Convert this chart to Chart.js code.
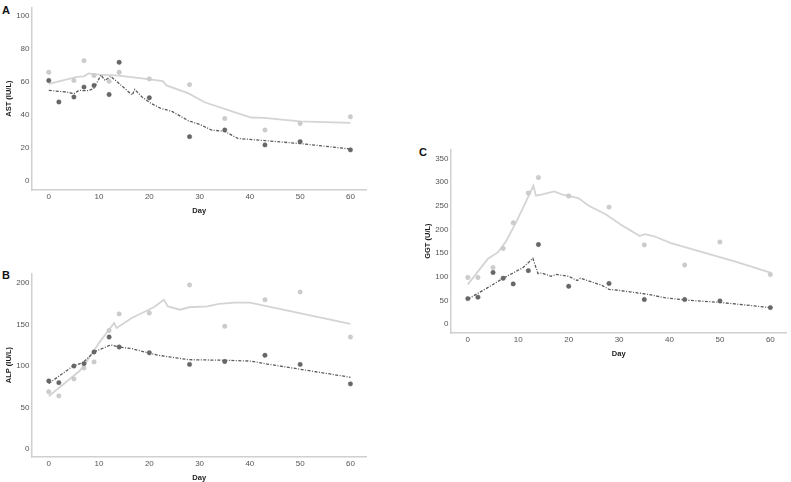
<!DOCTYPE html>
<html>
<head>
<meta charset="utf-8">
<script src="https://cdn.jsdelivr.net/npm/chart.js@4.4.1/dist/chart.umd.min.js"></script>
<style>
  html, body { margin: 0; padding: 0; background: #ffffff; overflow: hidden; }
  body { width: 791px; height: 482px; position: relative; font-family: "Liberation Sans", Arial, sans-serif; }
  canvas { position: absolute; }
  .panel-tag { position: absolute; font-weight: bold; font-size: 11px; color: #111; line-height: 1; }
</style>
</head>
<body>
<div class="panel-tag" style="left:2px; top:5px;">A</div>
<div class="panel-tag" style="left:2px; top:270px;">B</div>
<div class="panel-tag" style="left:419px; top:147px;">C</div>
<canvas id="chart-ast" width="371" height="215" style="left:0; top:0;"></canvas>
<canvas id="chart-alp" width="371" height="216" style="left:0; top:266px;"></canvas>
<canvas id="chart-ggt" width="372" height="216" style="left:419px; top:142px;"></canvas>

<script>
// Dias de coleta (pontos observados)
const sampleDays = [0, 2, 5, 7, 9, 12, 14, 20, 28, 35, 43, 50, 60];
const dayTicks = [0, 10, 20, 30, 40, 50, 60];

// AST
const astLight = [66, null, 61, 73, 64, 60.5, 66, 62, 58.5, 38, 31, 35, 39];
const astDark = [61, 48, 51, 57, 58, 52.5, 72, 50.5, 27, 31, 22, 24, 19];
const astLightFitDays = [0, 5.6, 7, 7.9, 10, 14, 19.7, 22.7, 23.4, 27.8, 31, 36.3, 40.2, 42.8, 50, 60];
const astLightFit = [58.9, 63.2, 63.5, 65.3, 64.5, 63.9, 61.8, 60.6, 58, 53.2, 47.8, 42.5, 38.6, 38.4, 36.2, 35.3];
const astDarkFitDays = [0, 3.5, 5, 6, 7.7, 8.9, 10.4, 11.2, 12.3, 13.6, 16.6, 17.1, 18.6, 20.2, 22.2, 24.5, 27.8, 30.1, 32.4, 35, 37.6, 43, 50, 60];
const astDarkFit = [55, 54, 53, 55, 54.8, 56, 64.3, 61, 63.5, 60.2, 52.2, 55.6, 50.9, 47.4, 44.2, 42.3, 36.6, 34.3, 31, 30.2, 25.9, 24.6, 22.8, 19.5];
const astTicks = [0, 20, 40, 60, 80, 100];

// ALP
const alpLight = [69, 64, 84.5, 97.7, 105, 143, 163, 164, 198, 148, 180, 189.5, 135];
const alpDark = [82, 80, 100, 103, 117, 135, 123, 116, 102, 105.5, 113, 102, 78.5];
const alpLightFitDays = [0, 6.1, 7.3, 10, 13, 13.5, 16.5, 20.9, 22.9, 23.7, 26.1, 27.9, 31.6, 33.8, 37, 40, 60];
const alpLightFit = [63.5, 94, 103, 128, 152, 146, 158, 171, 180, 172, 168, 171, 172, 175, 176.5, 176.5, 151];
const alpDarkFitDays = [0, 4.8, 6.8, 9, 12.3, 14, 16.6, 19.9, 21.8, 27.8, 35, 40.2, 42.9, 60];
const alpDarkFit = [79, 100, 104, 117, 125.5, 123, 121, 115.6, 113, 107.7, 107, 106, 103, 86.5];
const alpTicks = [0, 50, 100, 150, 200];

// GGT
const ggtLight = [98.6, 98.6, 119.6, 159.8, 214, 276.7, 309.4, 270.6, 247, 167.3, 125, 173.5, 104.7];
const ggtDark = [54, 57, 109, 97, 85, 113, 168, 80, 86, 52, 52, 49, 35];
const ggtLightFitDays = [0, 4, 6, 7.6, 9.6, 11.6, 13, 13.5, 14.8, 17.1, 18.6, 21.9, 24, 27.5, 30.5, 34.1, 35.1, 36.8, 40.3, 53.4, 60];
const ggtLightFit = [84, 138, 152, 175, 216, 260, 292, 271, 274, 280, 274, 266, 250, 231, 209, 186, 190, 186, 171, 131, 109];
const ggtDarkFitDays = [0, 4.4, 7, 10.9, 12.9, 13.9, 14.7, 16.5, 17.5, 20, 21.7, 22.3, 26.6, 28, 29.9, 35.7, 39, 43, 50, 60];
const ggtDarkFit = [53, 80, 97, 119, 139, 107, 108, 101, 105, 101, 92, 97, 82, 73.5, 71.4, 63, 56, 51, 46, 35];
const ggtTicks = [0, 50, 100, 150, 200, 250, 300, 350];

const COLORS = {
  light: "#cccccc",
  lightLine: "#d4d4d4",
  dark: "#676767",
  darkLine: "#5a5a5a",
  axis: "#d0d0d0",
  tick: "#555555",
  title: "#1a1a1a"
};

const FONT = "'Liberation Sans', Arial, sans-serif";

/** Junta dias e valores em pares {x, y}, ignorando valores ausentes. */
function toPoints(days, values) {
  return days
    .map((d, i) => ({ x: d, y: values[i] }))
    .filter((p) => p.y !== null);
}

/** Cria um painel (pontos claros/escuros + curvas ajustadas). */
function makePanel(canvasId, opts) {
  const ctx = document.getElementById(canvasId).getContext("2d");
  return new Chart(ctx, {
    type: "scatter",
    data: {
      datasets: [
        {
          data: toPoints(opts.lightFitDays, opts.lightFit),
          showLine: true,
          borderColor: COLORS.lightLine,
          borderWidth: 1.8,
          pointRadius: 0,
          tension: 0,
          order: 4
        },
        {
          data: toPoints(opts.darkFitDays, opts.darkFit),
          showLine: true,
          borderColor: COLORS.darkLine,
          borderWidth: 1.3,
          borderDash: [3, 1.5, 1, 1.5],
          pointRadius: 0,
          tension: 0,
          order: 3
        },
        {
          data: toPoints(sampleDays, opts.light),
          backgroundColor: COLORS.light,
          borderColor: "#c2c2c2",
          borderWidth: 0.5,
          pointRadius: 2.2,
          order: 2
        },
        {
          data: toPoints(sampleDays, opts.dark),
          backgroundColor: COLORS.dark,
          borderColor: "#5e5e5e",
          borderWidth: 0.5,
          pointRadius: 2.2,
          order: 1
        }
      ]
    },
    options: {
      responsive: false,
      animation: false,
      devicePixelRatio: 1,
      layout: { padding: { top: 1, left: 0, right: 0, bottom: 0 } },
      plugins: {
        legend: { display: false },
        tooltip: { enabled: false }
      },
      scales: {
        x: {
          type: "linear",
          min: -3.34,
          max: 63.2,
          afterBuildTicks: (scale) => {
            scale.ticks = dayTicks.map((v) => ({ value: v }));
          },
          afterFit: (scale) => {
            scale.height = 25;
          },
          grid: { display: false, drawTicks: false },
          border: { display: true, color: COLORS.axis, width: 1.5 },
          ticks: {
            padding: 2,
            color: COLORS.tick,
            font: { family: FONT, size: 8 }
          },
          title: {
            display: true,
            text: "Day",
            color: COLORS.title,
            padding: { top: 0, bottom: 0 },
            font: { family: FONT, size: 7.5, weight: "bold" }
          }
        },
        y: {
          type: "linear",
          min: opts.yMin,
          max: opts.yMax,
          afterBuildTicks: (scale) => {
            scale.ticks = opts.yTicks.map((v) => ({ value: v }));
          },
          afterFit: (scale) => {
            scale.width = 32;
          },
          grid: { display: false, drawTicks: false },
          border: { display: true, color: COLORS.axis, width: 1.5 },
          ticks: {
            padding: 2.5,
            color: COLORS.tick,
            font: { family: FONT, size: 8 }
          },
          title: {
            display: true,
            text: opts.yTitle,
            color: COLORS.title,
            padding: { top: 4, bottom: 0 },
            font: { family: FONT, size: 7.5, weight: "bold" }
          }
        }
      }
    }
  });
}

makePanel("chart-ast", {
  light: astLight, dark: astDark,
  lightFitDays: astLightFitDays, lightFit: astLightFit,
  darkFitDays: astDarkFitDays, darkFit: astDarkFit,
  yTicks: astTicks, yMin: -5.3, yMax: 105.3, yTitle: "AST (IU/L)"
});

makePanel("chart-alp", {
  light: alpLight, dark: alpDark,
  lightFitDays: alpLightFitDays, lightFit: alpLightFit,
  darkFitDays: alpDarkFitDays, darkFit: alpDarkFit,
  yTicks: alpTicks, yMin: -9.8, yMax: 212, yTitle: "ALP (IU/L)"
});

makePanel("chart-ggt", {
  light: ggtLight, dark: ggtDark,
  lightFitDays: ggtLightFitDays, lightFit: ggtLightFit,
  darkFitDays: ggtDarkFitDays, darkFit: ggtDarkFit,
  yTicks: ggtTicks, yMin: -18.6, yMax: 369, yTitle: "GGT (U/L)"
});
</script>
</body>
</html>
